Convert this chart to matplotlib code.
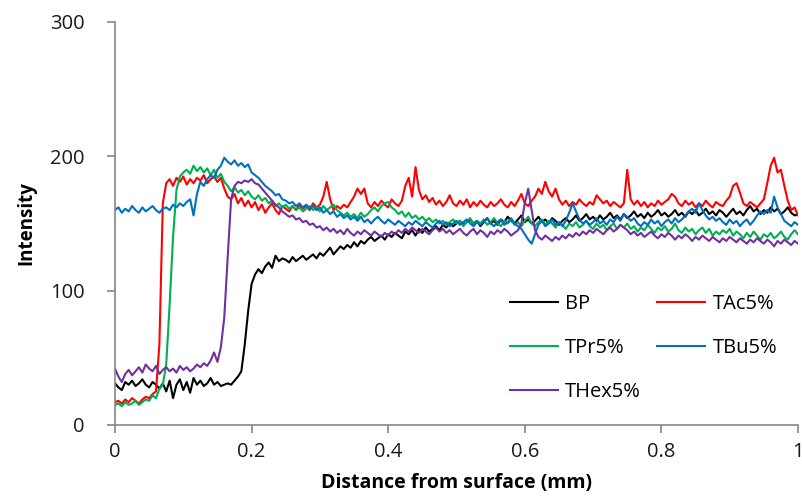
import matplotlib.pyplot as plt
import numpy as np

plt.rcParams['font.family'] = ['Open Sans', 'DejaVu Sans']

# sampling step along the distance axis (mm)
step = 0.005

bp = [31, 28, 26, 32, 30, 33, 29, 31, 34, 30, 28, 32, 30, 27, 31, 25, 33, 20, 30, 34,
      26, 32, 24, 35, 30, 33, 29, 31, 35, 30, 32, 29, 30, 31, 30, 33, 36,
      40, 60, 85, 105, 112, 116, 113, 118, 121, 117, 126, 122, 124, 123, 121, 125, 122, 124,
      126, 123, 125, 127, 124, 128, 126, 129, 132, 127, 130, 133, 131, 134, 132, 136, 133,
      137, 135, 138, 140, 137, 139, 141, 138, 142, 140, 143, 141, 139, 144, 142, 145, 141,
      146, 143, 147, 144, 146, 148, 145, 149, 147, 150, 148, 150,
      152, 149, 151, 153, 150, 152, 148, 151, 154, 150, 152, 149, 153, 151, 155, 152, 150,
      153, 156, 151, 153, 150, 152, 155, 151, 153, 150, 154, 152, 149, 152, 154, 151, 153,
      156, 152, 154, 157, 153, 155, 152, 156, 153, 155, 158, 154, 156, 153, 157, 154, 156,
      159, 155, 157, 154, 158, 155, 157, 160, 156, 158, 155, 157, 160, 156, 158, 155, 159,
      157, 160, 156, 158, 161, 157, 159, 156, 160, 158, 155, 158, 161, 157, 159, 156, 160,
      163, 159, 161, 157, 160, 158, 162, 159, 161, 157, 159, 162, 158, 156, 157]

tac = [17, 18, 16, 19, 17, 20, 18, 16, 19, 21, 20, 23, 25,
       60, 165, 180, 183, 178, 184, 181, 185, 179, 183, 180, 184, 182, 186, 180, 183, 185,
       181, 184, 176, 170, 168, 172, 165, 169, 163, 167, 162, 166, 160, 164, 158, 162, 165,
       160, 157, 163, 161, 159, 163, 160, 164, 161, 163, 160, 165, 162, 164, 170, 181, 168,
       160, 163, 161, 164, 162, 166, 170, 176, 172, 176, 165, 162, 166, 163, 167, 164, 162,
       168, 165, 163, 167, 178, 184, 170, 192, 175, 168, 171, 166, 169, 164, 167, 163, 166,
       171, 165, 163,
       167, 164, 168, 162, 166, 163, 167, 164, 162, 166, 163, 165, 168, 164, 162, 166, 163,
       167, 172, 165, 163, 167, 170, 176, 172, 181, 174, 170, 176, 168, 164, 167, 163, 166,
       164, 168, 165, 163, 166, 164, 171, 168, 165, 167, 163, 166, 164, 162, 165, 190, 168,
       164, 167, 163, 166, 162, 165, 163, 167, 164, 166, 168, 172, 170, 165, 163, 167, 164,
       166, 162, 165, 163, 167, 164, 162, 166, 164, 163, 167, 170, 178, 180, 173, 165, 163,
       166, 164, 162, 165, 168, 180, 193, 199, 188, 190, 178, 167, 160, 162, 156]

tpr = [15, 16, 14, 17, 15, 16, 18, 15, 17, 19, 18, 22, 20, 27, 30,
       45, 90, 140, 175, 185, 188, 190, 187, 193, 189, 192, 188, 191, 186, 190, 184, 187,
       181, 178, 174, 177, 173, 175, 171, 174, 170, 168, 171, 167, 169, 165, 167, 163, 165,
       162, 164, 161, 163, 160, 162, 159, 161, 163, 160, 162, 159, 163, 160, 162, 164, 160,
       158, 156, 158, 155, 157, 154, 158, 155, 157, 160, 162, 159, 163, 165, 166, 162, 160,
       157, 159, 155, 158, 154, 156, 153, 155, 152, 154, 151, 153, 150, 152, 149, 151, 153,
       150,
       152, 148, 151, 154, 149, 152, 150, 153, 149, 151, 154, 150, 148, 152, 150, 153, 149,
       151, 148, 152, 155, 150, 148, 151, 153, 149, 152, 150, 147, 151, 149, 146, 150, 148,
       151, 147, 149, 152, 148, 146, 150, 147, 149, 145, 148, 150, 146, 149, 147, 150, 146,
       148, 144, 147, 145, 149, 146, 143, 147, 145, 148, 144, 146, 150, 145, 143, 147, 144,
       146, 142, 145, 147, 143, 146, 141, 144, 142, 145, 143, 146, 141, 144, 142, 139, 143,
       140, 144, 141, 138, 142, 140, 143, 139, 141, 144, 140, 138, 142, 145, 142]

tbu = [160, 162, 158, 161, 159, 163, 160, 158, 162, 159, 161, 163, 160, 158, 161, 162,
       160, 164, 162, 165,
       163, 166, 168, 156, 172, 181, 178, 183, 186, 184, 190, 193, 199, 196, 194, 197, 193,
       195, 192, 194, 188, 186, 184, 181, 178, 176, 174, 171, 172, 168, 167, 165, 166, 163,
       165, 162, 164, 161, 163, 160, 162, 158, 160, 157, 159, 155, 157, 154, 156, 153, 155,
       152, 155, 151, 153, 150, 153, 155, 152, 150, 153, 151, 149, 152, 150, 148, 151, 149,
       152, 150, 148, 151, 149, 147, 150, 152, 149, 151, 148, 150, 152,
       149, 151, 153, 150, 148, 151, 149, 152, 154, 150, 148, 151, 153, 149, 151, 154, 150,
       148, 146, 142, 138, 135, 142, 149, 152, 148, 150, 153, 149, 151, 148, 152, 158, 165,
       159, 153, 150, 152, 149, 151, 154, 150, 152, 149, 153, 151, 155, 152, 157, 155, 152,
       154, 150, 148, 151, 149, 153, 150, 152, 148, 151, 153, 150, 154, 151, 153, 156, 159,
       161, 158, 165, 160, 156, 153, 155, 152, 154, 151, 149, 153, 150, 152, 148, 151, 153,
       149, 152, 156, 159, 157, 160, 158, 170, 162, 157, 152, 150, 148, 151, 149]

thex = [42, 36, 32, 38, 41, 37, 40, 43, 39, 45, 42, 40, 44, 38, 41, 43, 40, 42, 39, 44,
        41, 43, 40, 42, 45, 43, 46, 44, 48, 54, 47,
        58, 80, 125, 168, 178, 181, 180, 182, 181, 183, 180, 179, 176, 173, 170, 167, 164,
        162, 159, 157, 155, 156, 153, 154, 151, 152, 149, 150, 147, 148, 145, 147, 144, 146,
        143, 145, 142, 146, 143, 141, 144, 142, 145, 143, 141, 144, 142, 140, 143, 141, 144,
        142, 145, 143, 146, 144, 147, 145, 143, 146, 144, 142, 145, 147, 144, 146, 143, 145,
        142, 144,
        146, 143, 141, 144, 146, 142, 145, 143, 140, 144, 142, 145, 143, 146, 144, 141, 143,
        145, 150, 165, 176, 160, 145, 140, 138, 141, 139, 137, 140, 138, 141, 139, 142, 140,
        143, 141, 144, 142, 145, 143, 146, 144, 142, 145, 147, 144, 146, 149, 147, 145, 142,
        144, 141, 143, 140, 142, 144, 141, 139, 142, 140, 143, 141, 138, 141, 139, 142, 140,
        137, 140, 138, 141, 139, 137, 140, 138, 136, 139, 137, 140, 138, 136, 139, 137, 135,
        138, 136, 139, 137, 135, 138, 136, 133, 137, 135, 138, 136, 134, 137, 135]

labels = ['BP', 'TPr5%', 'THex5%', 'TAc5%', 'TBu5%']
series = [bp, tpr, thex, tac, tbu]
colors = ['#000000', '#00b050', '#7030a0', '#ff0000', '#0070c0']

fig = plt.figure(figsize=(8.03, 5.04), dpi=100)
ax = fig.add_axes([115 / 803, 1 - 425 / 504, 683 / 803, 403 / 504])

# draw order: black, red, green, blue, purple
for k in [0, 3, 1, 4, 2]:
    y = series[k]
    x = np.arange(len(y)) * step
    ax.plot(x, y, color=colors[k], lw=1.5, label=labels[k])

ax.set_xlim(0, 1)
ax.set_ylim(0, 300)
ax.set_xticks([0, 0.2, 0.4, 0.6, 0.8, 1.0])
ax.set_xticklabels(['0', '0.2', '0.4', '0.6', '0.8', '1'])
ax.set_yticks([0, 100, 200, 300])

for s in ['top', 'right']:
    ax.spines[s].set_visible(False)
for s in ['left', 'bottom']:
    ax.spines[s].set_color('#868686')
    ax.spines[s].set_linewidth(1.2)
ax.tick_params(axis='both', colors='#868686', length=6, width=1.2, labelsize=14.5,
               labelcolor='#1a1a1a')
ax.tick_params(axis='x', pad=6)
ax.tick_params(axis='y', pad=16)

ax.set_xlabel('Distance from surface (mm)', fontsize=14, fontweight='bold', labelpad=8)
ax.set_ylabel('Intensity', fontsize=13.5, fontweight='bold', labelpad=10)

h, l = ax.get_legend_handles_labels()
order = [l.index(name) for name in labels]
ax.legend([h[i] for i in order], [l[i] for i in order], ncol=2, frameon=False,
          fontsize=14.5, loc='upper left', bbox_to_anchor=(0.566, 0.345),
          handlelength=2.4, handletextpad=0.35, columnspacing=0.8, labelspacing=1.2,
          borderaxespad=0)

fig.savefig('out.png', dpi=100)
